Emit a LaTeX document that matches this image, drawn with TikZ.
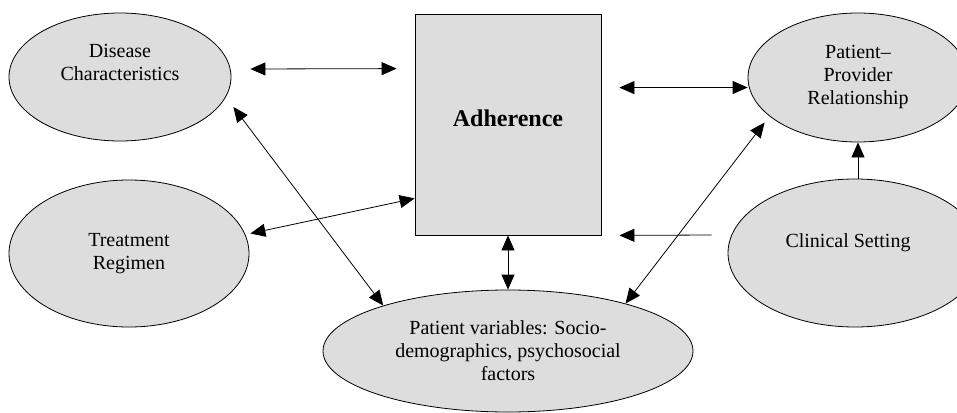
\documentclass[tikz,border=0pt]{standalone}
\usepackage{fontspec}
\setmainfont{Liberation Serif}
\usetikzlibrary{arrows.meta,shapes.geometric}
\definecolor{shade}{RGB}{221,221,221}

\begin{document}
\begin{tikzpicture}[x=1pt,y=-1pt,>={Triangle[length=15pt,width=13pt]},line width=0.8pt,
  txt/.style={align=center,font=\fontsize{20}{23}\selectfont},
  oval/.style={ellipse,draw,fill=shade,inner sep=0pt,txt},
  box/.style={rectangle,draw,fill=shade,inner sep=0pt}]

  \useasboundingbox (0,0) rectangle (957,412);

  \node[oval,minimum width=222pt,minimum height=128pt,
    label={[txt,yshift=15pt]center:Disease\\Characteristics}] (dis) at (120,77) {};
  \node[oval,minimum width=240pt,minimum height=147pt] (trt) at (129,253.5) {Treatment\\Regimen};
  \node[box,minimum width=186pt,minimum height=221pt,
    label={[font=\fontsize{24}{28}\selectfont\bfseries,yshift=6pt]center:Adherence}] (adh) at (508,124.5) {};
  \node[oval,minimum width=220pt,minimum height=129pt] (ppr) at (858,77.5) {Patient--\\Provider\\Relationship};
  \node[oval,minimum width=254pt,minimum height=148pt,
    label={[txt,xshift=-7pt,yshift=10pt]center:Clinical Setting}] (clin) at (855,253) {};
  \node[oval,minimum width=370pt,minimum height=122pt] (pv) at (508,351)
    {Patient variables: Socio-\\demographics, psychosocial\\factors};

  \path[<->]
      ([xshift=19pt,yshift=8pt]dis.east) edge ([xshift=-18pt,yshift=-55pt]adh.north west)
      ([xshift=18pt,yshift=-74pt]adh.north east) edge ([yshift=-10pt]ppr.west)
      ([xshift=2pt,yshift=-30pt]dis.east) edge (pv.160)
      ([xshift=1pt,yshift=20pt]trt.east) edge ([yshift=37pt]adh.south west)
      (adh.south) edge (pv.north)
      (pv.22) edge ([xshift=17pt,yshift=-45pt]ppr.west);

  \path[->]
      (ppr.south |- clin.north) edge (ppr.south)
      ([xshift=-16pt,yshift=18pt]clin.west) edge ([xshift=18pt]adh.south east);
\end{tikzpicture}
\end{document}
